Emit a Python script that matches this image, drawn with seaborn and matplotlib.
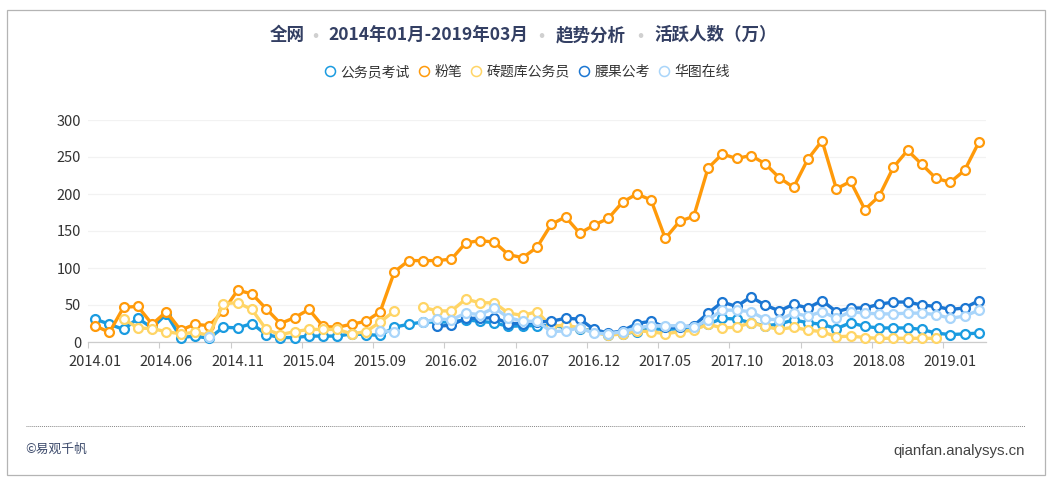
import numpy as np
import pandas as pd
import matplotlib
matplotlib.use("Agg")
import matplotlib.pyplot as plt
from matplotlib.lines import Line2D
from matplotlib.patches import Rectangle
import seaborn as sns

N = None
months = pd.period_range("2014-01", "2019-03", freq="M").strftime("%Y.%m").tolist()

kaoshi = [31, 24, 17, 32, 19, 38, 6, 8, 5, 20, 19, 25, 10, 6, 6, 8, 8, 8, 11, 10, 9, 20, 24, 27, 27, 27, 30, 28, 26, 21, 22, 22, 22, 20, 18, 15,
          10, 11, 14, 18, 17, 18, 20, 24, 32, 31, 26, 22, 24, 30, 26, 24, 18, 26, 21, 19, 19, 19, 17, 12, 10, 11, 12]
fenbi = [22, 13, 47, 48, 24, 41, 16, 24, 22, 42, 70, 65, 45, 25, 33, 44, 21, 20, 24, 28, 41, 95, 110, 110, 110, 112, 134, 137, 135, 118, 114, 128,
         159, 169, 147, 158, 167, 189, 200, 192, 140, 163, 170, 235, 254, 248, 252, 241, 222, 209, 247, 272, 207, 217, 179, 197, 236, 259, 240, 221, 216, 232, 270]
zhuanti = [N, N, 31, 19, 18, 14, 11, 13, 9, 52, 53, 44, 17, 10, 14, 17, 17, 17, 11, 14, 27, 42, N, 47, 42, 42, 58, 53, 53, 39, 36, 41, 21, 23, 19,
           13, 9, 11, 15, 14, 11, 14, 16, 24, 19, 20, 26, 21, 17, 20, 16, 14, 7, 8, 6, 5, 5, 5, 5, 5, N, N, N]
yaoguo = [N] * 24 + [21, 23, 32, 32, 33, 25, 25, 27, 28, 32, 31, 17, 12, 15, 25, 28, 20, 20, 22, 39, 54, 48, 61, 50, 42, 51, 46, 56, 41, 46, 46, 51, 54, 54, 50, 48, 44, 46, 56]
huatu = [N] * 8 + [7] + [N] * 11 + [15, 14, N, 27, 31, 30, 39, 37, 46, 33, 28, 28, 14, 15, 19, 12, 11, 14, 19, 22, 22, 22, 20, 30, 43, 43, 41, 31, 30, 39, 35, 41, 32, 41, 39, 38, 38, 39, 39, 37, 32, 35, 43]

series_names = ["公务员考试", "粉笔", "砖题库公务员", "腰果公考", "华图在线"]
series_values = [kaoshi, fenbi, zhuanti, yaoguo, huatu]
series_colors = ["#1a9be0", "#ff9a0a", "#ffd566", "#1b76d2", "#a9d5fa"]
y_ticks = [0, 50, 100, 150, 200, 250, 300]

W, H = 1053, 483
sns.set_theme(style="white")
plt.rcParams["font.family"] = ["Noto Sans CJK SC", "DejaVu Sans"]
fig = plt.figure(figsize=(W / 100, H / 100), dpi=100, facecolor="white")
L, R, T, B = 88, 986, 120, 342
ax = fig.add_axes([L / W, 1 - B / H, (R - L) / W, (B - T) / H])
fig.add_artist(Rectangle((7 / W, 1 - 474.5 / H), 1038 / W, 464.5 / H, transform=fig.transFigure,
                         fill=False, ec="#b4b4b4", lw=0.9))

frame = pd.DataFrame({"month": months, "idx": np.arange(len(months))})
for z, (name, vals, col) in enumerate(zip(series_names, series_values, series_colors)):
    d = frame.assign(v=pd.to_numeric(pd.Series(vals), errors="coerce"))
    run = d["v"].isna().cumsum()
    for _, part in d[d["v"].notna()].groupby(run[d["v"].notna()]):
        sns.lineplot(data=part, x="idx", y="v", ax=ax, color=col, lw=2.4, marker="o", ms=6.4,
                     mfc="white", mec=col, mew=1.6, zorder=3 + z, errorbar=None, legend=False, clip_on=False)

ax.set_xlim(-0.5, len(months) - 0.5)
ax.set_ylim(0, 300)
ax.set_xlabel("")
ax.set_ylabel("")
ax.set_yticks(y_ticks)
ax.set_xticks(frame["idx"][::5] - 0.5)
ax.set_xticklabels([])
for i in frame["idx"][::5]:
    ax.annotate(months[i], (i, 0), xycoords=("data", "axes fraction"), xytext=(0, -20), textcoords="offset pixels",
                ha="center", va="center", fontsize=10.5, color="#333333")
ax.tick_params(axis="y", length=0, labelsize=10.5, labelcolor="#333333", pad=5)
ax.tick_params(axis="x", length=4, width=0.8, color="#cccccc", bottom=True, direction="out")
ax.grid(axis="y", color="#f2f2f2", lw=0.9)
ax.set_axisbelow(True)
for s in ["top", "right", "left"]:
    ax.spines[s].set_visible(False)
ax.spines["bottom"].set_color("#cccccc")
ax.spines["bottom"].set_linewidth(0.9)

def ft(x, y, s, **kw):
    fig.text(x / W, 1 - y / H, s, va="center", **kw)

title_parts = [(287.5, "全网"), (428, "2014年01月-2019年03月"), (591, "趋势分析"), (716, "活跃人数（万）")]
for x, s in title_parts:
    ft(x, 35, s, ha="center", fontsize=12.6, fontweight="bold", color="#333f63")
for x in [315, 541, 640]:
    ft(x, 37, "·", ha="center", fontsize=13, fontweight="bold", color="#d0d0d0")

handles = [Line2D([], [], ls="none", marker="o", ms=7.2, mfc="white", mec=c, mew=1.1) for c in series_colors]
fig.legend(handles, series_names, loc="center", bbox_to_anchor=(526 / W, 1 - 72 / H), ncol=5, frameon=False,
           fontsize=10, handletextpad=0.22, columnspacing=0.45, handlelength=1.1, labelcolor="#333333")

fig.add_artist(Line2D([26 / W, 1025 / W], [1 - 425.5 / H] * 2, transform=fig.transFigure, color="#888888", lw=0.7, ls=(0, (1, 1))))
ft(25, 449.5, "©易观千帆", ha="left", fontsize=9.2, color="#3c4a6b")
ft(1025, 450.5, "qianfan.analysys.cn", ha="right", fontsize=10.8, family=["Liberation Sans"], color="#444444")

fig.savefig("out.png", dpi=100, facecolor="white")
